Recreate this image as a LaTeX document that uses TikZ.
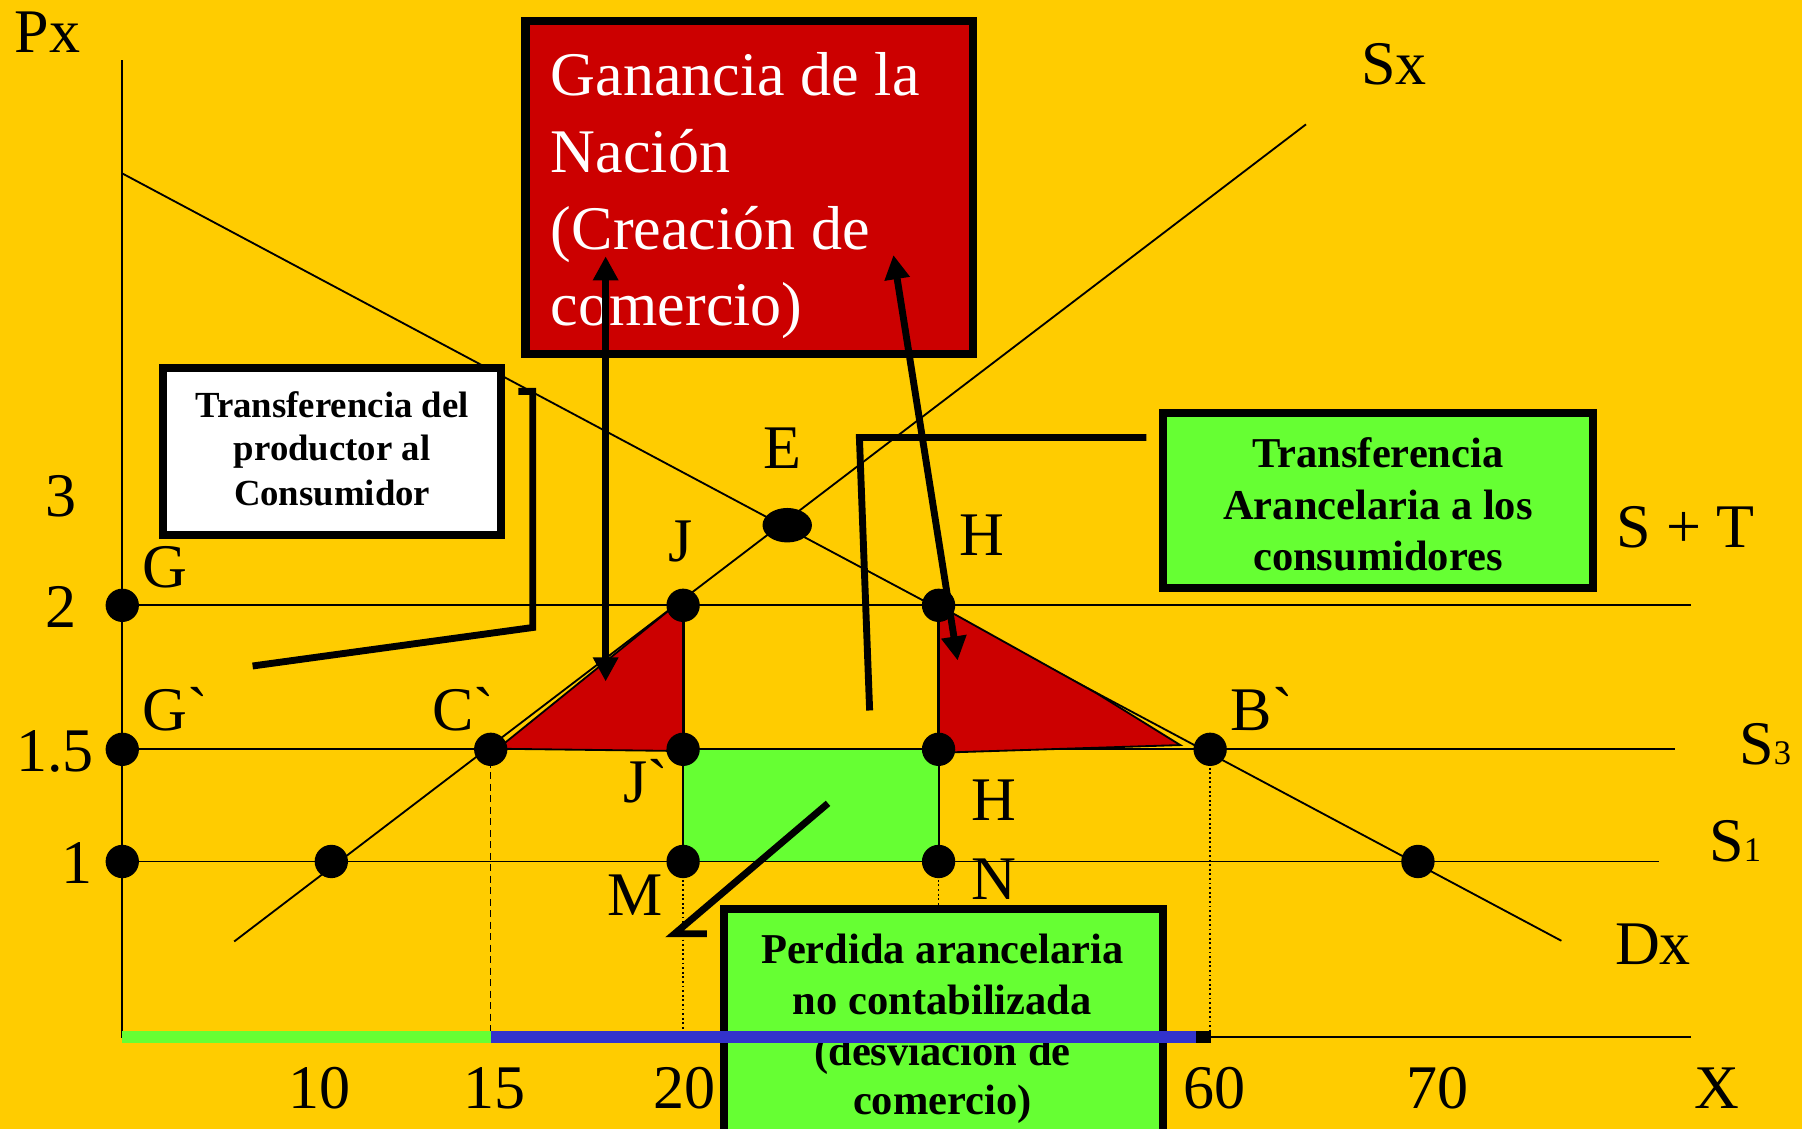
\documentclass[tikz,border=0pt]{standalone}
\usepackage{fontspec}
\newfontfamily\tnr{Liberation Serif}
\usetikzlibrary{arrows.meta,shapes.geometric}
\definecolor{bgyellow}{RGB}{255,204,0}
\definecolor{boxred}{RGB}{204,0,0}
\definecolor{boxgreen}{RGB}{102,255,51}
\definecolor{barblue}{RGB}{51,51,204}
\begin{document}
\begin{tikzpicture}[x=0.5pt,y=-0.5pt,
  curve/.style={line width=0.8pt},
  edgeline/.style={line width=1.4pt},
  callout/.style={line width=3pt, line join=miter, line cap=butt},
  boxframe/.style={line width=3.5pt},
  dot/.style={circle, fill=black, inner sep=0pt, minimum size=14.5pt},
  bigdot/.style={ellipse, fill=black, inner sep=0pt, minimum width=21.5pt, minimum height=15pt},
  lbl/.style={inner sep=0pt, font=\tnr\fontsize{27}{32}\selectfont},
  subs/.style={font=\tnr\fontsize{15}{15}\selectfont},
  redtxt/.style={inner sep=0pt, text=white, font=\tnr\fontsize{27}{33}\selectfont, anchor=base west},
  wtxt/.style={inner sep=0pt, font=\tnr\bfseries\fontsize{16}{19}\selectfont, anchor=base},
  gtxt/.style={inner sep=0pt, font=\tnr\bfseries\fontsize{18.5}{22}\selectfont, anchor=base},
  dblarrow/.style={line width=3pt, {Triangle[length=10.5pt,width=10.5pt]}-{Triangle[length=10.5pt,width=10.5pt]}},
  dottedv/.style={line width=0.6pt, dash pattern=on 0.8pt off 1.2pt},
  dashedv/.style={line width=0.6pt, dash pattern=on 3pt off 2pt}
]
\useasboundingbox (0,0) rectangle (1568,982);
\fill[bgyellow] (0,0) rectangle (1568,982);

% key points
\coordinate (pG) at (106.4,526.7);
\coordinate (pGp) at (106.4,652);
\coordinate (pO1) at (106.4,749.6);
\coordinate (pA) at (288.3,749.6);
\coordinate (pC) at (427,652);
\coordinate (pJ) at (594.4,526.7);
\coordinate (pJp) at (594.4,652);
\coordinate (pM) at (594.4,749.6);
\coordinate (pH) at (816.7,526.7);
\coordinate (pHp) at (816.7,652);
\coordinate (pN) at (816.7,749.6);
\coordinate (pB) at (1053,652);
\coordinate (pR) at (1233.8,749.6);
\coordinate (pE) at (685,457);

% axes and horizontal lines
\coordinate (yTop) at (106.4,52.6);
\coordinate (orig) at (106.4,902.6);
\coordinate (xEnd) at (1471.6,902.6);
\coordinate (l2End) at (1471.6,526.7);
\coordinate (l15End) at (1457.6,652);
\coordinate (l1End) at (1443.7,749.6);
\draw[curve] (yTop) -- (orig) -- (xEnd);
\draw[curve] (pG) -- (l2End);
\draw[curve] (pGp) -- (l15End);
\draw[curve] (pO1) -- (l1End);

% supply and demand
\coordinate (sLow) at (203.8,819.2);
\coordinate (sHigh) at (1136.4,108.2);
\coordinate (dHigh) at (106.4,150.9);
\coordinate (dLow) at (1358.6,818.6);
\draw[curve] (sLow) -- (sHigh);
\draw[curve] (dHigh) -- (dLow);

% red triangles
\fill[boxred, draw=black, line width=0.8pt] (433,651.5) -- (587.5,526.7) -- (594.4,526.7) -- (594.4,653.5) -- cycle;
\fill[boxred, draw=black, line width=0.8pt] (816.7,526.7) -- (954.3,603.3) -- (1027,648.3) -- (816.7,655) -- cycle;

% green rectangle
\fill[boxgreen, draw=black, line width=0.8pt] (pJp) rectangle (pN);
\draw[edgeline] (pJ) -- (pJp);
\draw[edgeline] (pH) -- (pHp);

% guide lines
\draw[dashedv] (pC) -- (427,902.6);
\draw[dottedv] (pM) -- (594.4,902.6);
\draw[dottedv] (pN) -- (816.7,800);
\draw[dottedv] (pB) -- (1053,902.6);

% dots
\node[dot] (dG) at (pG) {};
\node[dot] (dGp) at (pGp) {};
\node[dot] (dO1) at (pO1) {};
\node[dot] (dA) at (pA) {};
\node[dot] (dC) at (pC) {};
\node[dot] (dJ) at (pJ) {};
\node[dot] (dJp) at (pJp) {};
\node[dot] (dM) at (pM) {};
\node[dot] (dH) at (pH) {};
\node[dot] (dHp) at (pHp) {};
\node[dot] (dN) at (pN) {};
\node[dot] (dB) at (pB) {};
\node[dot] (dR) at (pR) {};
\node[bigdot] (dE) at (pE) {};

% boxes
\draw[boxframe, fill=boxred] (457.25,18) rectangle (846.9,308.3);
\draw[boxframe, fill=white] (142.2,320.2) rectangle (435.8,465.1);
\draw[boxframe, fill=boxgreen] (1011.7,359.7) rectangle (1386.3,511.3);
\draw[boxframe, fill=boxgreen] (629.7,791.2) rectangle (1011.9,995);

% box texts
\node[redtxt] (r1) at (479,83) {Ganancia de la};
\node[redtxt] (r2) at (479,150) {Nación};
\node[redtxt] (r3) at (479,217) {(Creación de};
\node[redtxt] (r4) at (479,283) {comercio)};

\node[wtxt] (w1) at (289,363) {Transferencia del};
\node[wtxt] (w2) at (289,401) {productor al};
\node[wtxt] (w3) at (289,440) {Consumidor};

\node[gtxt] (g1) at (1199,407) {Transferencia};
\node[gtxt] (g2) at (1199,452) {Arancelaria a los};
\node[gtxt] (g3) at (1199,496) {consumidores};

\node[gtxt] (b1) at (820,838) {Perdida arancelaria};
\node[gtxt] (b2) at (820,883) {no contabilizada};
\node[gtxt] (b3) at (820,927) {(desviación de};
\node[gtxt] (b4) at (820,970) {comercio)};

% callout connectors
\coordinate (c1a) at (451,340.5);
\coordinate (c1b) at (463.6,340.5);
\coordinate (c1c) at (463.6,546);
\coordinate (c1d) at (219.8,579.5);
\draw[callout] (c1a) -- (c1b) -- (c1c) -- (c1d);
\coordinate (c2a) at (997.6,380.7);
\coordinate (c2b) at (747.8,380.7);
\coordinate (c2c) at (756.7,618.2);
\draw[callout] (c2a) -- (c2b) -- (c2c);
\coordinate (c3a) at (720.5,699);
\coordinate (c3b) at (587,812.5);
\coordinate (c3c) at (615,812.5);
\draw[callout] (c3a) -- (c3b) -- (c3c);

% arrows
\coordinate (a1t) at (527,223);
\coordinate (a1b) at (527,593);
\draw[dblarrow] (a1t) -- (a1b);
\coordinate (a2t) at (777.4,221.9);
\coordinate (a2b) at (833.3,574.7);
\draw[dblarrow] (a2t) -- (a2b);

% axis bars
\fill[boxgreen] (106.4,897.3) rectangle (427,907.9);
\fill[barblue] (427,897.3) rectangle (1040.8,907.9);
\fill[black] (1040.8,897.3) rectangle (1053.6,907.9);

% labels
\node[lbl, anchor=base west] (tPx) at (12.5,46) {Px};
\node[lbl, anchor=base west] (tSx) at (1184,73.3) {Sx};
\node[lbl, anchor=base] (t3) at (53,449.6) {3};
\node[lbl, anchor=base] (t2) at (53,545.6) {2};
\node[lbl, anchor=base] (t15) at (48,671) {1.5};
\node[lbl, anchor=base] (t1) at (67.4,769) {1};
\node[lbl, anchor=base west] (tG) at (123.6,511) {G};
\node[lbl, anchor=base west] (tGp) at (124,635.8) {G`};
\node[lbl, anchor=base west] (tC) at (376,636) {C`};
\node[lbl, anchor=base] (tJ) at (592,489) {J};
\node[lbl, anchor=base] (tE) at (680.5,407.7) {E};
\node[lbl, anchor=base] (tH) at (854,483.6) {H};
\node[lbl, anchor=base west] (tJp) at (542,698) {J`};
\node[lbl, anchor=base west] (tHp) at (845,713.6) {H};
\node[lbl, anchor=base west] (tM) at (528,797) {M};
\node[lbl, anchor=base west] (tN) at (845,782.8) {N};
\node[lbl, anchor=base west] (tB) at (1070.5,635.8) {B`};
\node[lbl, anchor=base west] (tST) at (1406,476) {S + T};
\node[lbl, anchor=base west] (tS3) at (1513,665) {S{\tnr\fontsize{15}{15}\selectfont 3}};
\node[lbl, anchor=base west] (tS1) at (1487,749.6) {S{\tnr\fontsize{15}{15}\selectfont 1}};
\node[lbl, anchor=base west] (tDx) at (1405,839.5) {Dx};
\node[lbl, anchor=base] (x10) at (278,964.5) {10};
\node[lbl, anchor=base] (x15) at (430.7,964.5) {15};
\node[lbl, anchor=base] (x20) at (596,964.5) {20};
\node[lbl, anchor=base] (x60) at (1056.5,964.5) {60};
\node[lbl, anchor=base] (x70) at (1251,964.5) {70};
\node[lbl, anchor=base] (xX) at (1493.7,964.5) {X};
\end{tikzpicture}
\end{document}
